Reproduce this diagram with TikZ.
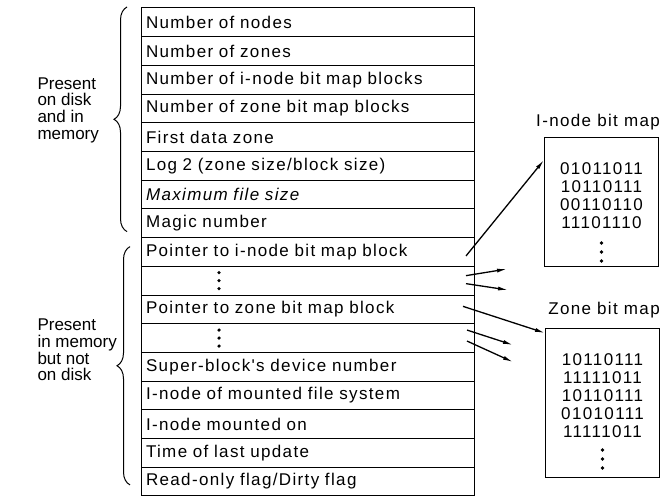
\documentclass[tikz,border=0pt]{standalone}
\usepackage{fontspec}
\setmainfont{Liberation Sans}
\newfontfamily\rowfont[LetterSpace=8]{Liberation Sans}
\usetikzlibrary{positioning,arrows.meta,decorations.pathreplacing}

\begin{document}
\begin{tikzpicture}[x=1pt, y=-1pt, >={Latex[length=10pt,width=4pt]}, line width=1pt]
    \tikzstyle{row} = [draw, rectangle, minimum height=28.7pt, text width=323pt, inner xsep=5pt, inner ysep=0pt, outer sep=0pt, align=left, font=\rowfont\fontsize{17}{20}\selectfont]
    \tikzstyle{bitbox} = [draw, rectangle, minimum width=114pt, inner sep=0pt, anchor=north west]
    \tikzstyle{bits} = [align=center, anchor=north, font=\rowfont\fontsize{17}{18}\selectfont]
    \tikzstyle{side} = [align=left, anchor=west, inner sep=0pt, font=\fontsize{17}{16.7}\selectfont]
    \tikzstyle{brace} = [decorate, decoration={brace, amplitude=13pt}]
    \tikzstyle{ptr} = [->, line width=1.3pt]

    \useasboundingbox (0,0) rectangle (660,497);

    % super-block fields
    \node [row, anchor=north west] (nnodes) at (141,8) {Number of nodes};
    \node [row, below=0pt of nnodes] (nzones) {Number of zones};
    \node [row, below=0pt of nzones] (nimap) {Number of i-node bit map blocks};
    \node [row, below=0pt of nimap] (nzmap) {Number of zone bit map blocks};
    \node [row, below=0pt of nzmap] (firstzone) {First data zone};
    \node [row, below=0pt of firstzone] (logsize) {Log 2 (zone size/block size)};
    \node [row, below=0pt of logsize] (maxsize) {\itshape Maximum file size};
    \node [row, below=0pt of maxsize] (magic) {Magic number};
    \node [row, below=0pt of magic] (ptrinode) {Pointer to i-node bit map block};
    \node [row, below=0pt of ptrinode] (dotsa) {};
    \node [row, below=0pt of dotsa] (ptrzone) {Pointer to zone bit map block};
    \node [row, below=0pt of ptrzone] (dotsb) {};
    \node [row, below=0pt of dotsb] (devnum) {Super-block's device number};
    \node [row, below=0pt of devnum] (mounted) {I-node of mounted file system};
    \node [row, below=0pt of mounted] (mountedon) {I-node mounted on};
    \node [row, below=0pt of mountedon] (lastupdate) {Time of last update};
    \node [row, below=0pt of lastupdate] (flags) {Read-only flag/Dirty flag};

    \foreach \d in {-8,0,8} {
        \fill ([xshift=78pt, yshift=\d pt]dotsa.west) circle (1.8pt);
        \fill ([xshift=78pt, yshift=\d pt]dotsb.west) circle (1.8pt);
    }

    % braces and their labels
    \draw [brace] ([xshift=-14pt, yshift=6pt]magic.south west) -- ([xshift=-14pt, yshift=1pt]nnodes.north west);
    \draw [brace] ([xshift=-11pt, yshift=11pt]flags.south west) -- ([xshift=-11pt, yshift=-9pt]ptrinode.north west);
    \node [side] (ondisk) at (37,110) {Present\\on disk\\and in\\memory};
    \node [side] (inmem) at (37,350) {Present\\in memory\\but not\\on disk};

    % bit maps
    \node [bitbox, minimum height=129pt] (ibox) at (544,137) {};
    \node [font=\rowfont\fontsize{17}{20}\selectfont] (ititle) at (598,122) {I-node bit map};
    \node [bits] (ibits) at ([yshift=-22pt]ibox.north) {01011011\\10110111\\00110110\\11101110};
    \foreach \d in {-106,-115,-124}
        \fill ([yshift=\d pt]ibox.north) circle (1.8pt);

    \node [bitbox, minimum height=149pt] (zbox) at (545,328) {};
    \node [font=\rowfont\fontsize{17}{20}\selectfont] (ztitle) at (604,310) {Zone bit map};
    \node [bits] (zbits) at ([yshift=-22pt]zbox.north) {10110111\\11111011\\10110111\\01010111\\11111011};
    \foreach \d in {-122,-131,-140}
        \fill ([yshift=\d pt]zbox.north) circle (1.8pt);

    % pointers
    \coordinate (fa1) at (507,269);
    \coordinate (fa2) at (508,290);
    \coordinate (fb1) at (513,345);
    \coordinate (fb2) at (513,362);

    \draw [ptr] ([xshift=-8pt, yshift=-4pt]ptrinode.east) -- ([yshift=-23pt]ibox.north west);
    \draw [ptr] ([xshift=-8pt, yshift=5pt]dotsa.east) -- (fa1);
    \draw [ptr] ([xshift=-8pt, yshift=-3pt]dotsa.east) -- (fa2);
    \draw [ptr] ([xshift=-11pt, yshift=3pt]ptrzone.east) -- ([yshift=-5pt]zbox.north west);
    \draw [ptr] ([xshift=-7pt, yshift=8pt]dotsb.east) -- (fb1);
    \draw [ptr] ([xshift=-7pt, yshift=-3pt]dotsb.east) -- (fb2);
\end{tikzpicture}
\end{document}
